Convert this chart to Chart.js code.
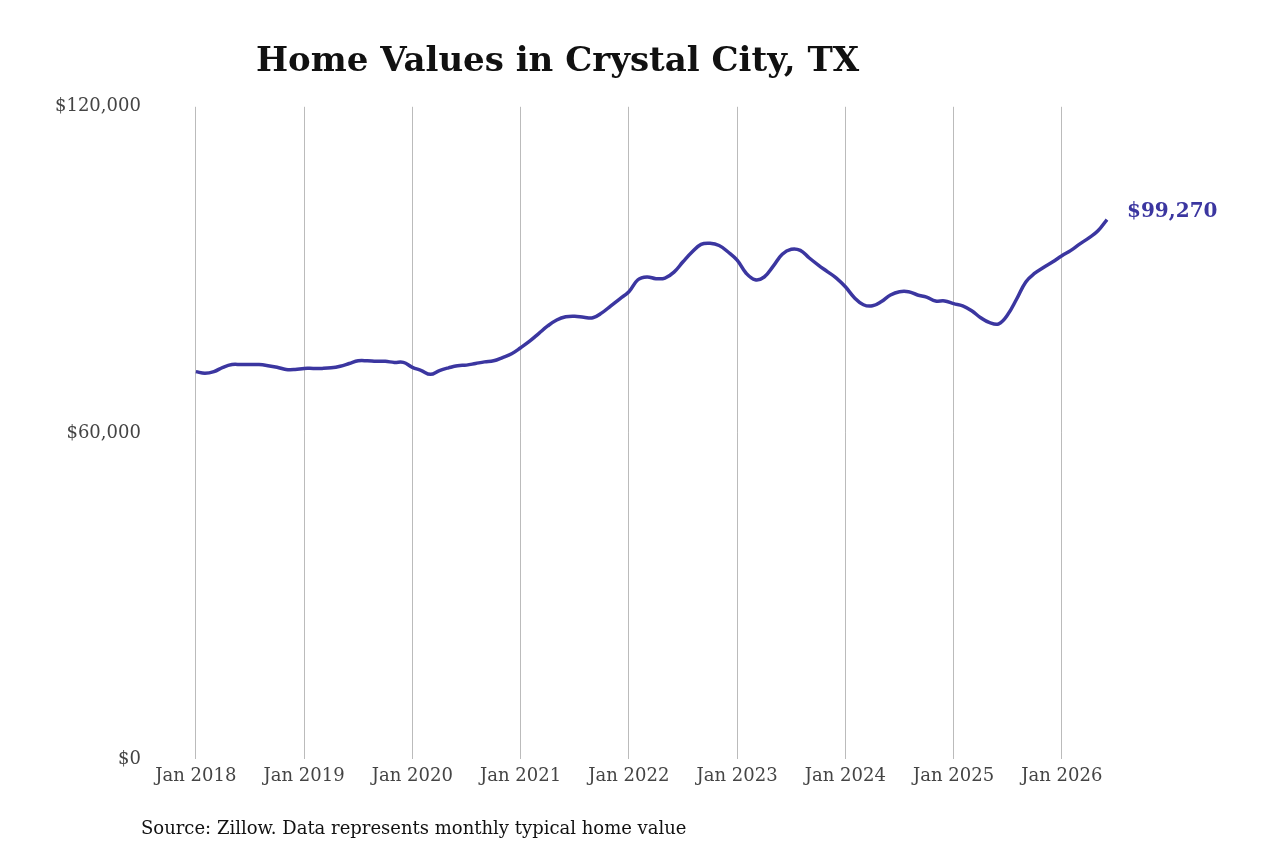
<!DOCTYPE html>
<html>
<head>
<meta charset="utf-8">
<script src="https://cdn.jsdelivr.net/npm/chart.js@4/dist/chart.umd.min.js"></script>
<style>
  body { margin: 0; background: #fff; }
  #wrap { width: 1280px; height: 853px; }
</style>
</head>
<body>
<div id="wrap"><canvas id="chart"></canvas></div>
<script>
// monthly typical home value, Jan 2018 .. Jun 2026
const values = [
  71.3, 71.0, 71.3, 72.1, 72.6, 72.6, 72.6, 72.6, 72.4, 72.1, 71.7, 71.7,
  71.9, 71.9, 71.9, 72.0, 72.3, 72.8, 73.3, 73.3, 73.2, 73.2, 73.0, 73.0,
  72.1, 71.5, 70.8, 71.5, 72.0, 72.4, 72.5, 72.8, 73.1, 73.3, 73.9, 74.6,
  75.7, 76.9, 78.3, 79.7, 80.8, 81.4, 81.5, 81.3, 81.2, 82.1, 83.4, 84.7,
  86.0, 88.2, 88.7, 88.4, 88.5, 89.6, 91.5, 93.3, 94.7, 94.9, 94.5, 93.3,
  91.8, 89.4, 88.2, 88.7, 90.7, 92.9, 93.8, 93.6, 92.2, 90.9, 89.7, 88.5,
  86.9, 84.9, 83.6, 83.4, 84.2, 85.4, 86.0, 86.0, 85.4, 85.0, 84.3, 84.3,
  83.8, 83.4, 82.5, 81.2, 80.3, 80.1, 81.8, 84.7, 87.8, 89.4, 90.5, 91.5,
  92.6, 93.6, 94.8, 95.9, 97.2, 99.27
].map(v => Math.round(v * 1000));

const months = ['Jan','Feb','Mar','Apr','May','Jun','Jul','Aug','Sep','Oct','Nov','Dec'];
const labels = values.map((v, i) => `${months[i % 12]} ${2018 + Math.floor(i / 12)}`);

const extras = {
  id: 'extras',
  afterDatasetsDraw(chart) {
    const { ctx } = chart;
    const meta = chart.getDatasetMeta(0);
    const last = meta.data[meta.data.length - 1];
    ctx.save();
    ctx.fillStyle = '#3b36a0';
    ctx.font = 'bold 20px "DejaVu Serif"';
    ctx.textBaseline = 'middle';
    ctx.fillText('$' + values[values.length - 1].toLocaleString('en-US'), last.x + 20, last.y - 8);
    ctx.fillStyle = '#111';
    ctx.font = '18px "DejaVu Serif"';
    ctx.textBaseline = 'alphabetic';
    ctx.fillText('Source: Zillow. Data represents monthly typical home value', 141, 834);
    ctx.restore();
  }
};

new Chart(document.getElementById('chart'), {
  type: 'line',
  data: {
    labels,
    datasets: [{
      data: values,
      borderColor: '#3b36a0',
      borderWidth: 3.5,
      pointRadius: 0,
      tension: 0.4,
      fill: false,
    }]
  },
  options: {
    responsive: true,
    maintainAspectRatio: false,
    animation: false,
    layout: { padding: { top: 10, right: 173, bottom: 60, left: 8 } },
    plugins: {
      legend: { display: false },
      tooltip: { enabled: false },
      title: {
        display: true,
        text: 'Home Values in Crystal City, TX',
        color: '#111',
        font: { family: 'DejaVu Serif', size: 34, weight: 'bold' },
        padding: { top: 32, bottom: 24 },
      },
    },
    scales: {
      x: {
        offset: false,
        border: { display: false },
        grid: {
          drawTicks: false,
          color: ctx => (ctx.index % 12 === 0 ? '#bbbbbb' : 'rgba(0,0,0,0)'),
        },
        ticks: {
          autoSkip: false,
          maxRotation: 0,
          padding: 6,
          color: '#444',
          font: { family: 'DejaVu Serif', size: 18 },
          callback: (val, i) => (i % 12 === 0 ? labels[i] : ''),
        },
      },
      y: {
        min: 0,
        max: 120000,
        border: { display: false },
        grid: { display: false },
        ticks: {
          stepSize: 60000,
          padding: 47,
          color: '#444',
          font: { family: 'DejaVu Serif', size: 18 },
          callback: v => '$' + v.toLocaleString('en-US'),
        },
      },
    },
  },
  plugins: [extras],
});
</script>
</body>
</html>
